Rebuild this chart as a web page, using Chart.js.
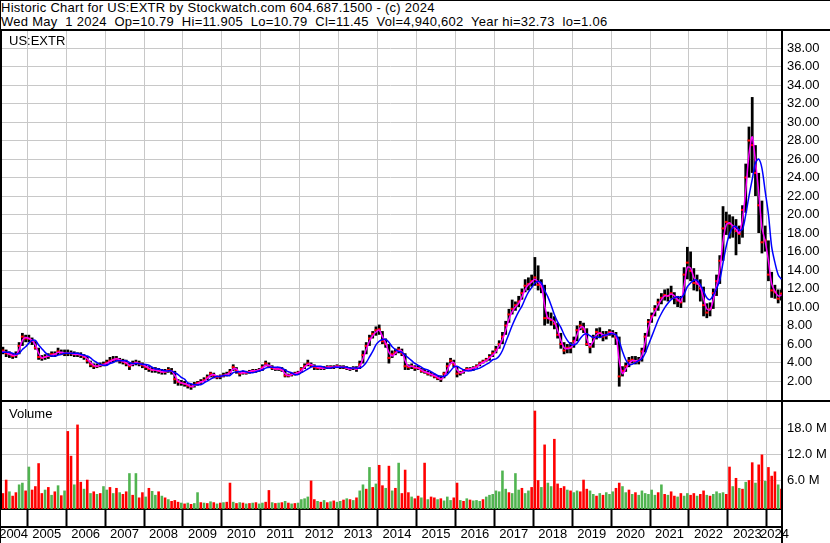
<!DOCTYPE html>
<html>
<head>
<meta charset="utf-8">
<title>US:EXTR historic chart</title>
<script src="https://cdn.jsdelivr.net/npm/chart.js@4.4.1/dist/chart.umd.min.js"></script>
<style>
    body { margin: 0; background: #fff; }
    #page {
        position: relative; width: 830px; height: 543px; overflow: hidden; background: #fff;
        font-family: "Liberation Sans", Arial, sans-serif; color: #000;
        box-shadow: inset 1px 1px 0 #000;
    }
    #head { position: absolute; left: 1px; top: 1px; font-size: 13px; line-height: 14px; letter-spacing: 0.27px; white-space: pre; }
    .panel-label { position: absolute; left: 9px; font-size: 13px; line-height: 13px; z-index: 2; }
    canvas { position: absolute; left: 0; }
</style>
</head>
<body>
<div id="page">
    <div id="head">Historic Chart for US:EXTR by Stockwatch.com 604.687.1500 - (c) 2024
Wed May  1 2024  Op=10.79  Hi=11.905  Lo=10.79  Cl=11.45  Vol=4,940,602  Year hi=32.73  lo=1.06</div>
    <canvas id="price-chart" width="830" height="371" style="top:29px"></canvas>
    <canvas id="volume-chart" width="830" height="143" style="top:400px"></canvas>
    <div class="panel-label" style="top:34px">US:EXTR</div>
    <div class="panel-label" style="top:407px">Volume</div>
</div>
<script>
// monthly bars, first one is April 2004, last one May 2024
const firstYear = 2004;
const firstMonth = 4;

const yearLabels = ["2004", "2005", "2006", "2007", "2008", "2009", "2010", "2011", "2012", "2013", "2014",
    "2015", "2016", "2017", "2018", "2019", "2020", "2021", "2022", "2023", "2024"];
const priceTicks = [2, 4, 6, 8, 10, 12, 14, 16, 18, 20, 22, 24, 26, 28, 30, 32, 34, 36, 38];
const volumeTicks = [6, 12, 18];

const closes = [
    5.1, 5.3, 5.0, 4.9, 4.7, 4.8, 5.8, 6.8, 6.6,
    6.6, 6.3, 5.6, 4.6, 4.5, 4.6, 4.7, 4.9, 4.9, 5.2, 5.0, 5.0,
    5.0, 5.0, 4.9, 4.9, 4.8, 4.6, 4.2, 3.8, 3.6, 3.6, 3.7, 3.8,
    4.0, 4.2, 4.3, 4.4, 4.2, 4.1, 3.9, 3.6, 3.9, 4.0, 3.9, 3.7,
    3.5, 3.3, 3.2, 3.2, 3.1, 3.0, 3.0, 3.2, 3.1, 2.2, 1.9, 1.8,
    1.7, 1.5, 1.4, 1.6, 1.8, 1.9, 2.1, 2.4, 2.8, 2.6, 2.4, 2.5,
    2.6, 2.7, 3.0, 3.5, 3.1, 2.8, 2.9, 2.9, 3.0, 3.1, 3.1, 3.2,
    3.5, 3.9, 3.6, 3.4, 3.3, 3.3, 3.2, 2.6, 2.6, 2.7, 2.8, 2.9,
    3.3, 3.6, 3.9, 3.7, 3.5, 3.4, 3.4, 3.4, 3.5, 3.5, 3.5, 3.6,
    3.5, 3.5, 3.4, 3.3, 3.4, 3.3, 3.8, 4.8, 5.8, 6.6, 7.1, 7.5,
    7.6, 6.3, 6.0, 4.5, 4.9, 5.1, 5.4, 5.0, 3.6, 3.5, 3.6, 3.4,
    3.4, 3.1, 3.0, 2.8, 2.7, 2.5, 2.3, 2.2, 2.8, 3.6, 4.2, 3.8,
    2.8, 2.9, 3.1, 3.3, 3.3, 3.4, 3.6, 3.9, 4.1, 4.3, 4.6, 5.0,
    5.4, 6.0, 6.8, 8.0, 9.2, 9.8, 10.2, 10.6, 11.5, 12.3, 12.5, 12.8,
    13.2, 12.4, 12.2, 8.8, 8.8, 8.6, 8.2, 7.0, 6.0, 5.3, 5.6, 5.6,
    6.3, 7.5, 8.0, 7.6, 6.0, 5.7, 6.7, 7.3, 7.2, 6.8, 7.0, 7.3,
    7.1, 6.7, 2.5, 3.1, 3.6, 4.2, 4.3, 4.1, 4.2, 5.2, 6.8, 8.4,
    9.0, 9.8, 10.5, 11.0, 11.3, 11.2, 11.5, 11.0, 10.7, 10.5, 13.5, 14.8,
    13.9, 12.6, 12.5, 12.0, 10.2, 9.4, 9.8, 11.5, 12.8, 15.0, 18.5, 19.2,
    19.0, 18.6, 18.2, 17.9, 20.5, 24.0, 28.0, 27.5, 24.5, 21.0, 17.0, 17.2,
    13.5, 11.8, 11.6, 10.9, 11.45
];

const highs = [
    5.6, 5.7, 5.4, 5.2, 5.0, 5.2, 6.2, 7.2, 7.0,
    7.0, 6.7, 6.3, 5.6, 4.8, 4.9, 5.0, 5.2, 5.2, 5.6, 5.4, 5.4,
    5.4, 5.3, 5.2, 5.1, 5.1, 4.9, 4.7, 4.2, 3.9, 3.9, 4.0, 4.1,
    4.3, 4.6, 4.7, 4.7, 4.5, 4.4, 4.3, 4.0, 4.2, 4.3, 4.2, 4.0,
    3.8, 3.6, 3.5, 3.5, 3.4, 3.3, 3.3, 3.5, 3.4, 3.1, 2.2, 2.1,
    2.0, 1.8, 1.7, 1.9, 2.0, 2.2, 2.4, 2.7, 3.0, 2.9, 2.6, 2.7,
    2.9, 3.0, 3.3, 3.8, 3.5, 3.1, 3.1, 3.1, 3.2, 3.3, 3.3, 3.4,
    3.8, 4.2, 4.0, 3.7, 3.5, 3.5, 3.5, 3.3, 2.8, 2.9, 3.0, 3.1,
    3.5, 3.9, 4.3, 4.0, 3.8, 3.6, 3.6, 3.6, 3.7, 3.7, 3.7, 3.8,
    3.7, 3.7, 3.6, 3.5, 3.6, 3.6, 4.2, 5.3, 6.2, 7.0, 7.4, 7.9,
    8.1, 7.4, 6.6, 6.0, 5.3, 5.5, 5.7, 5.5, 5.0, 3.8, 3.9, 3.7,
    3.7, 3.4, 3.3, 3.1, 3.0, 2.8, 2.6, 2.6, 3.0, 4.0, 4.5, 4.3,
    3.6, 3.1, 3.3, 3.5, 3.5, 3.6, 3.8, 4.1, 4.3, 4.5, 4.9, 5.3,
    5.8, 6.4, 7.3, 8.5, 9.8, 10.8, 10.6, 11.2, 12.0, 13.0, 13.2, 13.5,
    15.4, 14.5, 13.0, 12.4, 9.5, 9.4, 9.0, 8.3, 7.2, 6.2, 6.0, 6.2,
    6.8, 8.0, 8.5, 8.3, 7.7, 6.1, 7.0, 7.7, 7.8, 7.4, 7.4, 7.6,
    7.5, 7.3, 6.8, 3.6, 4.0, 4.6, 4.7, 4.7, 4.6, 5.6, 7.2, 8.7,
    9.4, 10.2, 10.9, 11.5, 11.9, 12.0, 12.3, 11.6, 11.2, 11.2, 14.3, 16.5,
    16.0, 14.2, 13.5, 13.0, 12.2, 10.4, 10.5, 12.0, 13.5, 15.6, 20.9, 20.3,
    20.0, 19.8, 19.5, 18.8, 21.0, 25.5, 29.5, 32.7, 27.5, 24.5, 21.5, 18.8,
    17.2, 13.8, 12.4, 11.9, 11.9
];

const lows = [
    4.7, 4.9, 4.6, 4.5, 4.4, 4.5, 4.9, 5.8, 6.2,
    6.2, 5.9, 5.4, 4.3, 4.2, 4.3, 4.4, 4.6, 4.6, 4.8, 4.8, 4.7,
    4.7, 4.7, 4.6, 4.6, 4.5, 4.3, 3.9, 3.5, 3.3, 3.4, 3.5, 3.6,
    3.7, 3.9, 4.0, 4.1, 3.9, 3.8, 3.6, 3.2, 3.6, 3.7, 3.6, 3.4,
    3.2, 3.0, 2.9, 2.9, 2.8, 2.7, 2.7, 2.9, 2.7, 1.7, 1.5, 1.5,
    1.4, 1.2, 1.06, 1.3, 1.5, 1.7, 1.9, 2.1, 2.4, 2.3, 2.2, 2.2,
    2.4, 2.5, 2.7, 3.1, 2.8, 2.5, 2.7, 2.7, 2.8, 2.9, 2.9, 3.0,
    3.1, 3.6, 3.4, 3.2, 3.1, 3.1, 3.0, 2.4, 2.4, 2.5, 2.6, 2.7,
    2.9, 3.3, 3.6, 3.5, 3.2, 3.2, 3.2, 3.2, 3.3, 3.3, 3.3, 3.4,
    3.3, 3.3, 3.2, 3.1, 3.2, 3.0, 3.3, 3.9, 4.9, 5.8, 6.6, 6.9,
    7.0, 6.0, 5.6, 3.9, 4.5, 4.8, 5.0, 4.7, 3.2, 3.2, 3.3, 3.1,
    3.2, 2.9, 2.8, 2.6, 2.5, 2.3, 2.1, 1.9, 2.3, 2.8, 3.9, 3.5,
    2.4, 2.6, 2.8, 3.1, 3.1, 3.1, 3.4, 3.6, 3.9, 4.1, 4.2, 4.6,
    5.0, 5.5, 6.0, 7.0, 8.3, 9.2, 9.6, 10.0, 10.8, 11.6, 11.8, 12.2,
    12.3, 11.8, 11.5, 8.0, 8.2, 8.0, 7.6, 6.6, 5.5, 4.9, 5.0, 5.0,
    5.6, 6.3, 7.5, 7.2, 5.8, 5.0, 5.6, 6.5, 6.7, 6.3, 6.5, 6.9,
    6.7, 5.9, 1.4, 2.5, 3.0, 3.5, 3.9, 3.8, 3.8, 4.1, 5.1, 6.8,
    8.3, 9.0, 9.6, 10.3, 10.7, 10.6, 10.9, 10.3, 10.0, 9.9, 10.5, 13.0,
    12.8, 11.8, 11.7, 10.6, 9.0, 8.8, 9.0, 9.8, 11.2, 12.5, 15.0, 17.8,
    17.4, 17.5, 15.6, 16.8, 17.5, 20.2, 24.0, 24.5, 22.0, 18.0, 15.8, 16.0,
    12.8, 11.0, 10.9, 10.4, 10.7
];

// short moving average (magenta) and long moving average (blue)
const shortAverage = [
    5.1, 5.2, 5.1, 4.9, 4.8, 4.8, 5.4, 6.4, 6.7,
    6.6, 6.4, 5.9, 5.0, 4.5, 4.6, 4.7, 4.8, 4.9, 5.1, 5.1, 5.0,
    5.0, 5.0, 4.9, 4.9, 4.8, 4.7, 4.4, 4.0, 3.7, 3.6, 3.7, 3.8,
    3.9, 4.1, 4.3, 4.4, 4.3, 4.1, 4.0, 3.7, 3.8, 4.0, 3.9, 3.8,
    3.6, 3.4, 3.2, 3.2, 3.1, 3.0, 3.0, 3.1, 3.1, 2.6, 2.0, 1.8,
    1.7, 1.6, 1.4, 1.5, 1.7, 1.9, 2.0, 2.3, 2.6, 2.7, 2.5, 2.5,
    2.6, 2.7, 2.9, 3.3, 3.3, 2.9, 2.9, 2.9, 3.0, 3.1, 3.1, 3.2,
    3.4, 3.7, 3.7, 3.5, 3.3, 3.3, 3.2, 2.8, 2.6, 2.7, 2.8, 2.9,
    3.1, 3.5, 3.8, 3.8, 3.6, 3.5, 3.4, 3.4, 3.5, 3.5, 3.5, 3.6,
    3.5, 3.5, 3.4, 3.3, 3.4, 3.3, 3.6, 4.4, 5.4, 6.3, 6.9, 7.3,
    7.5, 6.8, 6.1, 5.1, 4.7, 5.0, 5.3, 5.2, 4.2, 3.6, 3.6, 3.5,
    3.4, 3.2, 3.0, 2.9, 2.7, 2.6, 2.4, 2.2, 2.5, 3.2, 3.9, 4.0,
    3.2, 2.9, 3.0, 3.2, 3.3, 3.4, 3.5, 3.8, 4.0, 4.2, 4.5, 4.8,
    5.2, 5.8, 6.5, 7.5, 8.7, 9.5, 10.0, 10.4, 11.1, 11.9, 12.4, 12.7,
    13.0, 12.7, 12.3, 10.2, 8.8, 8.7, 8.4, 7.5, 6.4, 5.6, 5.5, 5.6,
    6.0, 7.0, 7.8, 7.8, 6.6, 5.8, 6.3, 7.0, 7.2, 7.0, 6.9, 7.2,
    7.2, 6.9, 4.2, 2.8, 3.3, 3.9, 4.2, 4.2, 4.2, 4.8, 6.2, 7.8,
    8.8, 9.5, 10.2, 10.8, 11.2, 11.2, 11.4, 11.2, 10.8, 10.6, 12.3, 14.3,
    14.2, 13.2, 12.6, 12.2, 10.9, 9.8, 9.7, 10.8, 12.3, 14.1, 17.1, 18.9,
    19.1, 18.8, 18.4, 18.0, 19.5, 22.6, 26.5, 28.4, 25.7, 22.4, 18.6, 17.1,
    15.0, 12.5, 11.7, 11.2, 11.3
];

const longAverage = [
    5.0, 5.1, 5.1, 5.1, 5.0, 4.9, 5.0, 5.4, 5.7,
    6.1, 6.4, 6.4, 5.9, 5.5, 5.1, 4.8, 4.7, 4.7, 4.8, 4.9, 5.0,
    5.0, 5.0, 5.0, 5.0, 4.9, 4.8, 4.7, 4.5, 4.2, 4.0, 3.8, 3.7,
    3.7, 3.9, 4.0, 4.2, 4.2, 4.2, 4.2, 4.0, 3.9, 3.9, 3.9, 3.8,
    3.8, 3.7, 3.5, 3.3, 3.3, 3.2, 3.1, 3.1, 3.1, 2.9, 2.7, 2.4,
    2.2, 1.8, 1.7, 1.6, 1.6, 1.6, 1.8, 2.0, 2.2, 2.4, 2.5, 2.5,
    2.6, 2.6, 2.6, 2.9, 3.0, 3.0, 3.1, 3.0, 2.9, 2.9, 3.0, 3.1,
    3.2, 3.4, 3.5, 3.5, 3.5, 3.5, 3.4, 3.2, 3.0, 2.9, 2.7, 2.7,
    2.9, 3.1, 3.3, 3.5, 3.6, 3.6, 3.6, 3.5, 3.4, 3.4, 3.5, 3.5,
    3.5, 3.5, 3.5, 3.4, 3.4, 3.4, 3.4, 3.6, 4.0, 4.6, 5.2, 5.9,
    6.3, 6.5, 6.5, 6.2, 5.7, 5.4, 5.2, 5.1, 4.8, 4.5, 4.2, 3.9,
    3.7, 3.5, 3.3, 3.2, 3.0, 2.8, 2.6, 2.5, 2.5, 2.7, 3.1, 3.5,
    3.6, 3.4, 3.2, 3.1, 3.1, 3.2, 3.3, 3.4, 3.6, 3.8, 4.0, 4.3,
    4.4, 4.7, 5.3, 6.2, 7.1, 8.0, 8.8, 9.5, 10.1, 10.9, 11.6, 12.1,
    12.6, 12.8, 12.6, 11.8, 11.1, 10.2, 9.2, 8.4, 7.8, 7.0, 6.4, 6.0,
    5.9, 6.1, 6.6, 7.0, 7.1, 6.9, 6.7, 6.8, 6.7, 6.9, 7.0, 7.1,
    7.1, 7.0, 6.3, 5.2, 4.3, 3.8, 3.8, 4.0, 4.2, 4.4, 5.0, 5.9,
    6.8, 7.7, 8.6, 9.3, 9.9, 10.4, 10.8, 11.0, 11.1, 11.0, 11.4, 12.2,
    12.6, 12.9, 12.9, 12.4, 11.7, 11.0, 10.8, 11.3, 12.0, 12.9, 14.8, 16.6,
    17.9, 18.6, 18.7, 18.3, 18.4, 20.0, 22.0, 23.8, 25.6, 26.0, 25.0, 22.5,
    20.0, 16.5, 14.8, 13.5, 13.0
];

// volume in millions of shares
const volumes = [
    5.4, 3.0, 6.1, 3.4, 2.4, 3.2, 5.0, 5.4, 3.6,
    9.1, 3.8, 4.6, 9.9, 3.0, 3.8, 4.4, 2.6, 3.4, 4.8, 2.5, 3.6,
    17.3, 11.6, 5.0, 18.8, 5.6, 4.0, 6.1, 3.0, 3.4, 2.8, 3.0, 4.6,
    3.8, 4.4, 3.0, 4.2, 3.2, 2.8, 3.4, 7.6, 2.6, 7.6, 2.0, 3.2,
    2.2, 4.2, 3.5, 2.6, 3.4, 2.4, 2.0, 1.6, 1.2, 1.4, 1.0, 0.8,
    0.6, 0.8, 0.5, 0.7, 3.2, 0.9, 0.8, 0.7, 1.1, 0.9, 0.6, 0.8,
    0.9, 1.0, 5.4, 1.0, 0.7, 0.9, 0.8, 0.6, 0.7, 0.8, 0.9, 0.6,
    0.8, 1.0, 3.7, 0.9, 0.7, 0.8, 0.9, 1.2, 0.8, 0.6, 0.7, 0.8,
    1.6, 1.8, 2.2, 5.9, 1.6, 1.2, 1.0, 1.4, 0.9, 1.1, 1.3, 1.0,
    1.2, 1.5, 1.8, 1.6, 1.4, 2.0, 3.6, 5.0, 4.0, 9.0, 4.4, 5.2,
    9.5, 4.8, 4.2, 9.3, 3.6, 4.2, 10.0, 3.0, 8.4, 3.2, 2.2, 1.8,
    2.4, 2.0, 10.0, 1.6, 2.2, 2.0, 1.6, 1.8, 1.3, 2.2, 1.4, 2.0,
    5.4, 1.4, 1.2, 1.8, 1.5, 1.3, 1.4, 1.2, 1.6, 2.2, 2.6, 2.8,
    3.6, 3.4, 8.2, 4.0, 3.2, 3.0, 7.6, 3.8, 4.2, 3.0, 3.6, 4.4,
    22.0, 6.0, 4.4, 14.2, 5.4, 4.6, 15.5, 5.2, 4.2, 4.6, 3.8, 3.6,
    3.2, 3.6, 3.4, 6.1, 4.0, 3.6, 2.8, 2.4, 3.0, 2.6, 3.2, 2.8,
    3.4, 4.2, 5.4, 4.6, 3.2, 3.8, 2.8, 3.2, 2.6, 3.6, 3.0, 2.8,
    3.8, 2.6, 3.2, 5.0, 2.8, 2.6, 3.4, 2.4, 2.2, 3.0, 2.4, 3.0,
    2.6, 3.0, 2.4, 2.8, 3.6, 2.6, 2.4, 2.8, 3.4, 3.0, 3.2, 2.8,
    9.1, 4.6, 6.5, 4.2, 4.0, 5.6, 6.0, 10.1, 5.4, 9.6, 11.9, 5.8,
    9.0, 7.0, 8.0, 5.0, 4.0
];

// bar colour of each volume bar: r = down, g = up (one string per year)
const volumeSides = [
    "grrgrrggr",
    "grrrrgrgrgrg", "rrgrrgrgrgrg", "grgrgrrgrgrr", "grggrgrgrrrg", "rgrggrgrgrgr",
    "grrgrgrgrgrg", "grrgrgrgrgrg", "gggrrgrgrgrg", "grgrgrggrgrg", "rrgrgrgrrrgr",
    "rgrgrrgrgggr", "rgrgrgggrggg", "ggggrgggrggr", "rrgrggrrrrgr", "ggrrrggrgrgg",
    "grrggrgrgggg", "ggrgrgrrgrgg", "rrgrrgrggggr", "rgrgrgrrgrrg",
    "rrrgr"
].join("");

const FONT = {family: "'Liberation Sans', Arial, sans-serif", size: 13};
const GRID = "#c8c8c8";
const UP_COLOR = "#50b450";
const DOWN_COLOR = "#ff0000";
const X_MIN = 2004.30;
const X_MAX = 2024.39;
const PRICE_MIN = -0.05;
const PRICE_MAX = 39.84;
const VOLUME_MIN = -0.65;
const VOLUME_MAX = 24.0;

const monthTimes = closes.map((c, i) => firstYear + (firstMonth - 1 + i + 0.5) / 12);
const yearStarts = yearLabels.slice(1).map(y => Number(y));

function yearLabelPos(label) {
    const from = Math.max(Number(label), X_MIN);
    const to = Math.min(Number(label) + 1, X_MAX);
    return (from + to) / 2;
}

function points(values) {
    return values.map((v, i) => ({x: monthTimes[i], y: v}));
}

function fixSize(prop, size) {
    return scale => {
        scale[prop] = size;
        scale.paddingTop = 0;
        scale.paddingBottom = 0;
        scale.paddingLeft = 0;
        scale.paddingRight = 0;
    };
}

function yearGridAxis(extra) {
    return Object.assign({
        type: "linear",
        min: X_MIN,
        max: X_MAX,
        offset: false,
        afterBuildTicks: scale => { scale.ticks = yearStarts.map(v => ({value: v})); },
        ticks: {display: false},
        grid: {color: GRID, offset: false, drawTicks: false},
        border: {display: false},
        afterFit: fixSize("height", 0)
    }, extra);
}

const framePlugin = {
    id: "frame",
    afterDraw(chart, args, opts) {
        const ctx = chart.ctx;
        const area = chart.chartArea;
        ctx.save();
        ctx.fillStyle = "#000";
        ctx.fillRect(0, 0, chart.width, 2);
        ctx.fillRect(0, 0, 2, opts.leftTo === "area" ? area.bottom : chart.height);
        if (opts.rightLine) {
            ctx.fillRect(area.right - 1, 0, 2, chart.height);
        }
        ctx.restore();
    }
};

function createPriceChart(canvas) {
    return new Chart(canvas, {
        type: "bar",
        data: {
            datasets: [
                {
                    type: "line", data: points(longAverage), borderColor: "#0000ff", borderWidth: 1.5,
                    pointRadius: 0, tension: 0.3, order: 0
                },
                {
                    type: "line", data: points(shortAverage), borderColor: "#ff00ff", borderWidth: 1.5,
                    pointRadius: 0, tension: 0.3, order: 1
                },
                {
                    type: "line", data: points(closes), showLine: false, pointStyle: "line",
                    pointRadius: 1.5, pointBorderWidth: 2, pointBorderColor: "#ff0000", order: 2
                },
                {
                    type: "bar", data: closes.map((c, i) => ({x: monthTimes[i], y: [lows[i], highs[i]]})),
                    backgroundColor: "#000", categoryPercentage: 1, barPercentage: 0.85, order: 3
                }
            ]
        },
        options: {
            responsive: false,
            animation: false,
            events: [],
            devicePixelRatio: 1,
            layout: {autoPadding: false, padding: {top: 2, bottom: 0, left: 0, right: 0}},
            plugins: {legend: {display: false}, tooltip: {enabled: false}, frame: {leftTo: "all"}},
            scales: {
                x: yearGridAxis({}),
                y: {
                    position: "right",
                    min: PRICE_MIN,
                    max: PRICE_MAX,
                    afterBuildTicks: scale => { scale.ticks = priceTicks.map(v => ({value: v})); },
                    ticks: {callback: v => v.toFixed(2), font: FONT, color: "#000", padding: 5},
                    grid: {color: GRID, drawTicks: false},
                    border: {display: true, color: "#000", width: 2},
                    afterFit: fixSize("width", 48)
                }
            }
        },
        plugins: [framePlugin]
    });
}

function createVolumeChart(canvas) {
    const colors = volumes.map((v, i) => volumeSides[i] === "r" ? DOWN_COLOR : UP_COLOR);
    return new Chart(canvas, {
        type: "bar",
        data: {
            datasets: [{
                data: points(volumes),
                base: VOLUME_MIN,
                backgroundColor: colors,
                categoryPercentage: 1,
                barPercentage: 0.8
            }]
        },
        options: {
            responsive: false,
            animation: false,
            events: [],
            devicePixelRatio: 1,
            layout: {autoPadding: false, padding: {top: 2, bottom: 0, left: 0, right: 0}},
            plugins: {legend: {display: false}, tooltip: {enabled: false}, frame: {leftTo: "area", rightLine: true}},
            scales: {
                x: yearGridAxis({
                    grid: {color: GRID, offset: false, drawTicks: true, tickLength: 18, tickColor: "#000", tickWidth: 2},
                    border: {display: true, color: "#000", width: 2},
                    afterFit: fixSize("height", 18)
                }),
                years: {
                    type: "linear",
                    position: "bottom",
                    min: X_MIN,
                    max: X_MAX,
                    offset: false,
                    afterBuildTicks: scale => { scale.ticks = yearLabels.map(y => ({value: yearLabelPos(y)})); },
                    ticks: {
                        autoSkip: false, maxRotation: 0, padding: 0, font: FONT, color: "#000",
                        callback: (v, i) => yearLabels[i]
                    },
                    grid: {display: false, drawTicks: false},
                    border: {display: true, color: "#000", width: 2},
                    afterFit: fixSize("height", 16)
                },
                y: {
                    position: "right",
                    min: VOLUME_MIN,
                    max: VOLUME_MAX,
                    afterBuildTicks: scale => { scale.ticks = volumeTicks.map(v => ({value: v})); },
                    ticks: {callback: v => v.toFixed(1) + " M", font: FONT, color: "#000", padding: 5},
                    grid: {color: GRID, drawTicks: false},
                    border: {display: true, color: "#000", width: 2},
                    afterFit: fixSize("width", 48)
                }
            }
        },
        plugins: [framePlugin]
    });
}

createPriceChart(document.getElementById("price-chart"));
createVolumeChart(document.getElementById("volume-chart"));
</script>
</body>
</html>
